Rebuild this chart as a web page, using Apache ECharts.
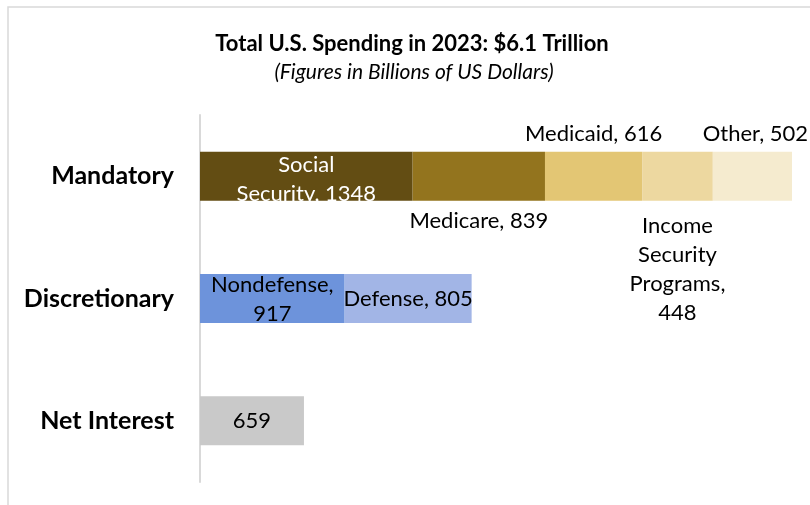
<!DOCTYPE html>
<html>
<head>
<meta charset="utf-8">
<script src="https://cdn.jsdelivr.net/npm/echarts@6/dist/echarts.min.js"></script>
<style>
html,body{margin:0;padding:0;background:#fff}
#ch{width:810px;height:505px}
</style>
</head>
<body>
<div id="ch"></div>
<script>
// data
var categories = ['Mandatory', 'Discretionary', 'Net Interest'];
var segNames = ['Social Security', 'Medicare', 'Medicaid', 'Income Security Programs', 'Other', 'Nondefense', 'Defense', 'Net Interest'];
var segValues = [1348, 839, 616, 448, 502, 917, 805, 659];
var segCategory = [0, 0, 0, 0, 0, 1, 1, 2];
var segLabels = ['Social\nSecurity, {v}', 'Medicare, {v}', 'Medicaid, {v}', 'Income\nSecurity\nPrograms,\n{v}', 'Other, {v}', 'Nondefense,\n{v}', 'Defense, {v}', '{v}'];

var colors = ['#634d13', '#93741e', '#e3c674', '#edd8a0', '#f5ebcf', '#6d93db', '#a2b5e6', '#c9c9c9'];
var labelPos = ['inside', 'bottom', 'top', 'bottom', 'top', 'inside', 'inside', 'inside'];
var labelColor = ['#fff', '#000', '#000', '#000', '#000', '#000', '#000', '#000'];
var labelDist = [0, 6, 3, 11, 3, 0, 0, 0];
var labelShift = [[0, 3], [0, 0], [0, 0], [0, 0], [3, 0], [0, 1], [0, 0], [0, 0]];
var font = 'Lato, "Open Sans", sans-serif';

var series = segNames.map(function (name, i) {
    var data = categories.map(function (c, j) {
        return j === segCategory[i] ? segValues[i] : '-';
    });
    return {
        name: name,
        type: 'bar',
        stack: 'total',
        barWidth: 49,
        data: data,
        itemStyle: { color: colors[i] },
        label: {
            show: true,
            position: labelPos[i],
            distance: labelDist[i],
            offset: labelShift[i],
            color: labelColor[i],
            fontFamily: font,
            fontSize: 22,
            lineHeight: 29,
            formatter: function () { return segLabels[i].replace('{v}', segValues[i]); }
        },
        emphasis: { disabled: true }
    };
});

var total = 0;
for (var k = 0; k < segValues.length; k++) {
    if (segCategory[k] === 0) total += segValues[k];
}

var chart = echarts.init(document.getElementById('ch'));
chart.setOption({
    animation: false,
    backgroundColor: '#fff',
    graphic: [
        {
            type: 'rect',
            shape: { x: 8, y: 7, width: 900, height: 600 },
            style: { fill: 'none', stroke: '#d9d9d9', lineWidth: 1.5 }
        },
        {
            type: 'text', x: 412, y: 44,
            style: {
                text: 'Total U.S. Spending in 2023: $6.1 Trillion',
                font: 'bold 22px ' + font, fill: '#000',
                textAlign: 'center', textVerticalAlign: 'middle'
            }
        },
        {
            type: 'text', x: 414, y: 72,
            style: {
                text: '(Figures in Billions of US Dollars)',
                font: 'italic 21px ' + font, fill: '#000',
                textAlign: 'center', textVerticalAlign: 'middle'
            }
        }
    ],
    grid: { left: 200, right: 18, top: 115, bottom: 23 },
    xAxis: { type: 'value', min: 0, max: total, show: false },
    yAxis: {
        type: 'category',
        data: categories,
        inverse: true,
        axisLine: { show: true, lineStyle: { color: '#d9d9d9', width: 2 } },
        axisTick: { show: false },
        axisLabel: { color: '#000', fontSize: 25, fontWeight: 'bold', fontFamily: font, margin: 26 }
    },
    series: series
});
</script>
</body>
</html>
